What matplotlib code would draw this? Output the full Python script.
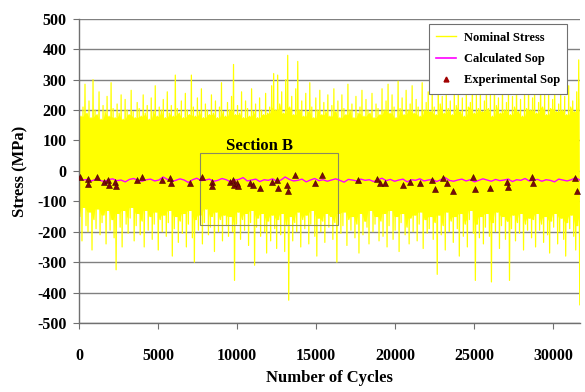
import numpy as np
import matplotlib
matplotlib.use("Agg")
import matplotlib.pyplot as plt
from matplotlib.patches import Rectangle
from matplotlib.lines import Line2D

# ---------------- data ----------------
x_max = 31700

nominal_peaks = [
    240, 180, 210, 285, 190, 230, 175, 300, 200, 185, 260, 170, 215, 195, 245, 180, 290, 205, 175, 220, 190, 250, 170, 235, 200,
    185, 265, 195, 175, 225, 205, 180, 250, 190, 215, 170, 240, 195, 280, 180, 210, 200, 235, 175, 260, 190, 215, 180, 315, 205,
    190, 230, 175, 255, 200, 185, 315, 210, 180, 240, 195, 270, 175, 220, 200, 185, 250, 190, 230, 175, 210, 290, 195, 180, 225,
    200, 245, 350, 185, 215, 190, 260, 175, 230, 205, 180, 270, 195, 220, 175, 240, 200, 185, 255, 190, 210, 280, 320, 200, 315,
    220, 260, 190, 300, 380, 210, 245, 185, 270, 360, 200, 230, 180, 255, 195, 290, 210, 175, 240, 200, 265, 185, 225, 195, 250,
    180, 215, 270, 195, 230, 175, 250, 205, 185, 285, 200, 220, 175, 245, 190, 210, 265, 180, 235, 200, 190, 255, 175, 220, 205,
    185, 270, 200, 230, 285, 190, 250, 210, 175, 295, 205, 240, 185, 265, 200, 220, 280, 190, 235, 210, 180, 290, 200, 225, 260,
    195, 270, 210, 185, 300, 220, 245, 190, 280, 205, 230, 185, 265, 215, 290, 195, 240, 180, 275, 210, 225, 295, 190, 250, 205,
    270, 195, 230, 285, 205, 250, 180, 300, 215, 240, 190, 275, 200, 225, 265, 185, 245, 210, 290, 195, 235, 180, 260, 205, 285,
    200, 240, 275, 190, 225, 300, 210, 250, 185, 270, 205, 235, 290, 195, 220, 265, 200, 245, 185, 280, 210, 230, 195, 260, 365,
]

nominal_valleys = [
    -150, -230, -120, -180, -200, -135, -260, -160, -190, -125, -210, -170, -145, -240, -130, -195, -160, -220, -325, -140, -185, -250, -130, -175, -205,
    -155, -120, -230, -180, -140, -210, -165, -250, -130, -195, -150, -225, -175, -135, -260, -160, -200, -145, -215, -170, -130, -280, -190, -150, -235,
    -165, -205, -140, -250, -175, -130, -220, -300, -160, -195, -145, -240, -170, -125, -210, -185, -150, -265, -135, -200, -160, -230, -145, -180, -215,
    -150, -200, -360, -175, -135, -225, -160, -195, -140, -245, -170, -130, -310, -185, -155, -215, -140, -200, -270, -165, -230, -145, -190, -255, -160,
    -210, -140, -265, -180, -425, -150, -230, -170, -200, -135, -250, -160, -190, -145, -240, -175, -130, -215, -280, -155, -200, -165, -235, -140, -185,
    -150, -225, -170, -300, -140, -205, -180, -135, -245, -160, -195, -150, -220, -175, -270, -140, -210, -165, -185, -240, -130, -200, -175, -150, -230,
    -165, -215, -140, -250, -180, -130, -225, -195, -150, -265, -170, -140, -210, -185, -240, -155, -200, -145, -230, -175, -135, -255, -160, -205, -190,
    -150, -225, -170, -340, -145, -210, -180, -260, -135, -200, -165, -235, -150, -190, -280, -140, -215, -175, -250, -160, -130, -205, -360, -175, -220,
    -150, -240, -185, -140, -215, -365, -170, -200, -135, -255, -180, -150, -225, -165, -360, -190, -145, -230, -170, -205, -140, -260, -175, -195, -155,
    -220, -160, -250, -140, -195, -175, -235, -150, -210, -270, -165, -185, -140, -240, -200, -155, -225, -280, -170, -190, -145, -215, -260, -180, -440,
]

calculated_sop = [
    -25, -30, -28, -33, -27, -31, -35, -29, -26, -32, -30, -36, -28, -25, -31, -34, -29, -27, -33, -30,
    -20, -28, -35, -31, -26, -30, -38, -29, -24, -32, -30, -27, -34, -31, -25, -29, -36, -30, -28, -22,
    -33, -30, -27, -35, -29, -31, -26, -34, -30, -20, -28, -33, -31, -27, -36, -30, -25, -32, -29, -34,
    -30, -26, -31, -37, -28, -30, -33, -27, -31, -29, -35, -30, -24, -32, -28, -34, -30, -27, -36, -29,
    -31, -26, -33, -30, -28, -35, -29, -22, -31, -34, -30, -27, -33, -29, -36, -31, -26, -30, -34, -28,
    -32, -30, -27, -35, -29, -31, -25, -33, -30, -28, -34, -29, -31, -36, -27, -30, -33, -29, -22, -30,
]

exp_cycles = [63, 570, 600, 1140, 1580, 1840, 1900, 2280, 2320, 3670, 3990, 5250, 5760, 5800, 7030, 7790, 8420, 8450,
              9560, 9750, 9800, 10000, 10050,
              10820, 11010, 11460, 12220, 12530, 12600, 13170, 13230, 13670, 14940, 15380, 17660, 18860,
              19050, 19370, 20510,
              20950, 21590, 22340, 22530, 23040, 23290, 23670, 24940, 25070, 26020, 27090, 27160, 28680,
              28740, 31400, 31520]
exp_sop = [-20, -27, -42, -21, -35, -30, -45, -38, -50, -30, -19, -30, -24, -40, -40, -19, -35, -50,
           -35, -30, -45, -40, -50,
           -40, -45, -55, -35, -30, -55, -45, -65, -13, -40, -13, -30, -25,
           -40, -40, -45,
           -35, -40, -30, -60, -24, -40, -65, -19, -60, -55, -35, -52, -19,
           -40, -24, -65]

x_ticks = [0, 5000, 10000, 15000, 20000, 25000, 30000]
y_ticks = [-500, -400, -300, -200, -100, 0, 100, 200, 300, 400, 500]

section_b = {"x0": 7660, "x1": 16390, "y0": -178, "y1": 59, "label": "Section B"}

# ---------------- plot ----------------
plt.rcParams['font.family'] = ['Liberation Serif', 'DejaVu Serif']
plt.rcParams['font.weight'] = 'bold'
plt.rcParams['axes.unicode_minus'] = False

fig = plt.figure(figsize=(5.85, 3.92), dpi=100)
ax = fig.add_axes([0.135, 0.176, 0.856, 0.776])

n = len(nominal_peaks)
peaks = np.asarray(nominal_peaks, float)
valleys = np.asarray(nominal_valleys, float)
nom_y = np.empty(2 * n)
nom_y[0::2] = peaks
nom_y[1::2] = valleys
nom_x = np.linspace(0, x_max, 2 * n)

# solid core where neighbouring strokes overlap
core_hi = np.minimum(peaks, np.minimum(np.roll(peaks, 1), np.roll(peaks, -1)))
core_lo = np.maximum(valleys, np.maximum(np.roll(valleys, 1), np.roll(valleys, -1)))
core_x = nom_x[0::2]
ax.fill_between(core_x, core_lo, core_hi, color='#FFFF00', lw=0, zorder=2)
ax.plot(nom_x, nom_y, color='#FFFF00', lw=0.9, zorder=2)

calc_x = np.linspace(0, x_max, len(calculated_sop))
ax.plot(calc_x, calculated_sop, color='#FF00FF', lw=1.0, zorder=4)

ax.plot(exp_cycles, exp_sop, linestyle='none', marker='^', markersize=4.5,
        color='#7A0A0A', markeredgecolor='#4a0000', markeredgewidth=0.4, zorder=5)

rect = Rectangle((section_b["x0"], section_b["y0"]),
                 section_b["x1"] - section_b["x0"], section_b["y1"] - section_b["y0"],
                 fill=False, edgecolor='#8a8a60', lw=0.8, zorder=3)
ax.add_patch(rect)
ax.text((section_b["x0"] + section_b["x1"]) / 2 - 600, section_b["y1"] - 5, section_b["label"],
        ha='center', va='bottom', fontsize=12, fontweight='bold', zorder=6)

ax.set_xlim(0, x_max)
ax.set_ylim(-500, 500)
ax.set_xticks(x_ticks)
ax.set_yticks(y_ticks)
ax.yaxis.grid(True, color='#808080', lw=1.0)
ax.set_axisbelow(True)
for s in ['top', 'right']:
    ax.spines[s].set_visible(False)
for s in ['left', 'bottom']:
    ax.spines[s].set_color('#707070')
    ax.spines[s].set_linewidth(1.0)
ax.tick_params(axis='both', labelsize=11.5, color='#707070', length=4, width=0.8)
ax.tick_params(axis='x', pad=14)
ax.tick_params(axis='y', pad=5)
for lab in ax.get_xticklabels() + ax.get_yticklabels():
    lab.set_fontweight('bold')

ax.set_xlabel('Number of Cycles', fontsize=12, fontweight='bold', labelpad=4)
ax.set_ylabel('Stress (MPa)', fontsize=12, fontweight='bold', labelpad=6)

handles = [
    Line2D([], [], color='#FFFF00', lw=1.0),
    Line2D([], [], color='#FF00FF', lw=1.2),
    Line2D([], [], color='#A00000', marker='^', linestyle='none', markersize=3.5),
]
leg = ax.legend(handles, ['Nominal Stress', 'Calculated Sop', 'Experimental Sop'],
                loc='upper right', bbox_to_anchor=(0.988, 1.003), fancybox=False,
                framealpha=1, edgecolor='#707070', prop={'size': 9, 'weight': 'bold'},
                handlelength=1.6, borderpad=0.6, labelspacing=0.75, handletextpad=0.6)
leg.get_frame().set_linewidth(0.8)
leg.set_zorder(10)

fig.savefig('out.png', dpi=100)
